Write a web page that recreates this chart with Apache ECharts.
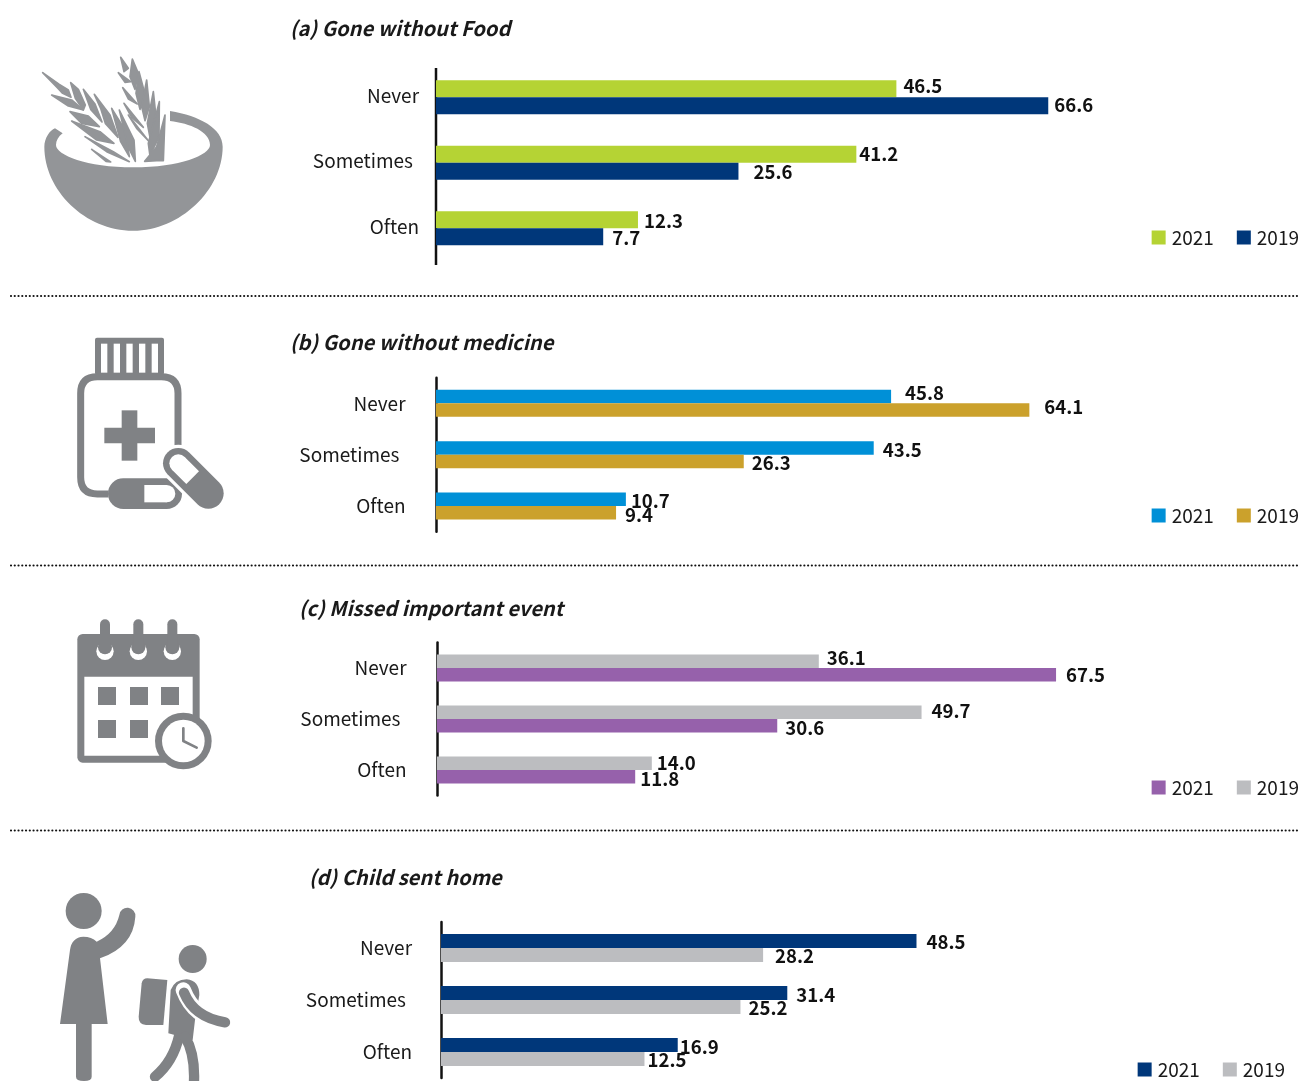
<!DOCTYPE html>
<html>
<head>
<meta charset="utf-8">
<style>html,body{margin:0;padding:0;background:#fff}#c{width:1301px;height:1081px}</style>
<script src="https://cdn.jsdelivr.net/npm/echarts@6/dist/echarts.min.js"></script>
</head>
<body>
<div id="c"></div>
<script>
const categories = ['Never', 'Sometimes', 'Often'];
const years = ['2021', '2019'];

const foodTitle = '(a) Gone without Food';
const food2021 = [46.5, 41.2, 12.3];
const food2019 = [66.6, 25.6, 7.7];

const medicineTitle = '(b) Gone without medicine';
const medicine2021 = [45.8, 43.5, 10.7];
const medicine2019 = [64.1, 26.3, 9.4];

const eventTitle = '(c) Missed important event';
const event2021 = [67.5, 30.6, 11.8];
const event2019 = [36.1, 49.7, 14.0];

const childTitle = '(d) Child sent home';
const child2021 = [48.5, 31.4, 16.9];
const child2019 = [28.2, 25.2, 12.5];

// The source's value axis does not start at zero: bars begin at this value.
const axisStart = -14.43;
const axisEnd = 93.3;

const FONT = '"Noto Sans CJK SC", "Noto Sans", sans-serif';
const INK = '#1a1a1a';

const panels = [
  { key: 'a', title: foodTitle, v21: food2021, v19: food2019, c21: '#b5d334', c19: '#00377a',
    left: 436, top: 64.5, height: 196.5, bar: 17, labelMargin: 17, lift: 1.5, showAxis: false,
    titleX: 290, titleY: 18, legendRight: 2, legendY: 228,
    shift21: [[7, -2.5], [3, -0.5], [6, 1.5]], shift19: [[6, -0.5], [15, 0.5], [9, 1.5]] },
  { key: 'b', title: medicineTitle, v21: medicine2021, v19: medicine2019, c21: '#0090d7', c19: '#cba12c',
    left: 436, top: 377.7, height: 154, bar: 13.5, labelMargin: 30.5, lift: 0, showAxis: true,
    titleX: 290, titleY: 332, legendRight: 2, legendY: 506,
    shift21: [[14, -3.5], [9, 2], [5, 1.5]], shift19: [[15, -3], [8, 1.5], [9, 2]] },
  { key: 'c', title: eventTitle, v21: event2021, v19: event2019, c21: '#9661ab', c19: '#bcbdc0',
    left: 437, top: 642.5, height: 153, bar: 13.5, labelMargin: 30.5, lift: 0, showAxis: true,
    titleX: 299, titleY: 598, legendRight: 2, legendY: 778, olderOnTop: true,
    shift21: [[10, 0], [8, 2.5], [5, 2.5]], shift19: [[8, -3], [10, -1], [5, 0]] },
  { key: 'd', title: childTitle, v21: child2021, v19: child2019, c21: '#00377a', c19: '#bcbdc0',
    left: 441, top: 922, height: 156, bar: 14, labelMargin: 29, lift: 0, showAxis: true,
    titleX: 309, titleY: 867, legendRight: 16, legendY: 1060,
    shift21: [[10, 1], [9, 1.5], [2, 1.5]], shift19: [[12, 1], [8, 1], [3, 1]] }
];

const option = {
  animation: false,
  backgroundColor: '#fff',
  textStyle: { fontFamily: FONT },
  title: [], legend: [], grid: [], xAxis: [], yAxis: [], series: [], graphic: []
};

panels.forEach((p, i) => {
  option.title.push({
    text: p.title, left: p.titleX, top: p.titleY, padding: 0,
    textStyle: { fontFamily: FONT, fontSize: 20.1, fontStyle: 'italic', fontWeight: 700, color: INK }
  });
  option.grid.push({ left: p.left, top: p.top, width: 814, height: p.height, containLabel: false });
  option.xAxis.push({
    gridIndex: i, type: 'value', min: axisStart, max: axisEnd, startValue: axisStart,
    show: false, splitLine: { show: false }
  });
  const catStyle = right => ({ fontFamily: FONT, fontSize: 19, color: INK, padding: [0, right, p.lift * 2, 0] });
  option.yAxis.push({
    gridIndex: i, type: 'category', inverse: true, data: categories,
    axisTick: { show: false },
    axisLine: { show: p.showAxis, onZero: false, lineStyle: { color: '#111', width: 2.5 } },
    axisLabel: {
      margin: p.labelMargin, fontFamily: FONT, fontSize: 19, color: INK,
      formatter: v => (v === 'Sometimes' ? '{s|' : '{n|') + v + '}',
      rich: { s: catStyle(6), n: catStyle(0) }
    }
  });
  const order = [[years[0], p.v21, p.c21, p.shift21], [years[1], p.v19, p.c19, p.shift19]];
  if (p.olderOnTop) order.reverse();
  order.forEach(([year, vals, color, shift]) => {
    option.series.push({
      name: year + ' ' + p.key, type: 'bar', xAxisIndex: i, yAxisIndex: i,
      barWidth: p.bar, barGap: 0, itemStyle: { color: color },
      data: vals.map((v, k) => ({ value: v, label: { offset: shift[k] } })),
      label: {
        show: true, position: 'right', distance: 0,
        fontFamily: FONT, fontSize: 18.6, fontWeight: 700, color: '#111',
        formatter: d => d.value.toFixed(1)
      }
    });
  });
  option.legend.push({
    data: years.map(y => y + ' ' + p.key),
    orient: 'horizontal',
    right: p.legendRight, top: p.legendY, padding: 0, itemWidth: 14, itemHeight: 14, itemGap: 23,
    icon: 'rect', selectedMode: false,
    formatter: n => n.slice(0, 4),
    textStyle: { fontFamily: FONT, fontSize: 19, color: INK, padding: [0, 0, 0, 1] }
  });
});

// panel (a): the drawn axis rule sits a little lower than the category band
option.graphic.push({ type: 'line', shape: { x1: 436, y1: 68, x2: 436, y2: 265 }, style: { stroke: '#111', lineWidth: 2.5 } });

// dotted separators
[296, 565.5, 830.5].forEach(y => option.graphic.push({
  type: 'line', shape: { x1: 11, y1: y, x2: 1299, y2: y },
  style: { stroke: '#111', lineWidth: 2.2, lineCap: 'round', lineDash: [0.01, 3.75] }
}));

// icons: drawn in 3x coordinates inside scaled groups
const path = (d, fill) => ({ type: 'path', shape: { pathData: d }, style: { fill: fill } });
const leaf = (d, fill) => ({ type: 'path', shape: { pathData: d }, style: { fill: fill, stroke: fill, lineWidth: 5, lineJoin: 'round' } });
const rect = (x, y, w, h, fill, r) => ({ type: 'rect', shape: { x, y, width: w, height: h, r: r || 0 }, style: { fill: fill } });
const circ = (cx, cy, r, fill) => ({ type: 'circle', shape: { cx, cy, r }, style: { fill: fill } });
const stroke = (d, color, w, cap) => ({ type: 'path', shape: { pathData: d }, style: { fill: 'none', stroke: color, lineWidth: w, lineCap: cap || 'round', lineJoin: 'round' } });
const G1 = '#939598', G2 = '#808285', W = '#fff';
const icon = (x, y, children) => ({ type: 'group', x, y, scaleX: 1 / 3, scaleY: 1 / 3, children });
const iconGroups = [];

const wheat = [
  'M128 98 L178 133 L205 150 L213 172 L188 160 L172 143 Z',
  'M155 165 L215 180 L250 210 L205 198 Z',
  'M212 128 L235 148 L256 195 L250 210 L226 175 Z',
  'M250 148 L285 192 L306 246 L272 208 Z',
  'M210 215 L265 228 L298 260 L245 250 Z',
  'M283 163 L330 225 L354 292 L316 250 L302 205 Z',
  'M215 243 L300 275 L342 310 L290 300 Z',
  'M335 205 L375 270 L388 350 L362 305 Z',
  'M255 290 L340 335 L388 365 L320 335 Z',
  'M275 328 L332 366 L318 364 Z',
  'M358 210 L402 300 L406 364 L384 320 Z',
  'M362 52 L385 85 L372 95 Z',
  'M355 98 L392 125 L375 127 Z',
  'M397 57 L415 100 L405 148 L390 110 Z',
  'M368 143 L412 192 L385 177 Z',
  'M417 95 L437 170 L420 208 L408 160 Z',
  'M372 190 L430 262 L395 232 Z',
  'M440 120 L448 200 L435 242 L425 200 Z',
  'M385 225 L445 302 L410 265 Z',
  'M460 155 L470 250 L450 292 L442 250 Z',
  'M478 185 L477 290 L450 348 L445 310 Z',
  'M495 225 L490 362 L470 362 L434 364 L470 320 Z'
];
iconGroups.push(icon(0, 40, [
  path('M133 320 C133 295 150 270 165 265 L188 280 C175 290 168 302 168 315 C168 345 260 382 400 382 C540 382 630 345 630 315 C630 275 570 250 510 243 L510 213 C600 228 668 265 668 320 C668 450 540 572 400 572 C255 572 133 450 133 320 Z', G1)
].concat(wheat.map(d => leaf(d, G1)))));

const capSlots = [153, 191, 229, 267, 305];
const capSlotEls = capSlots.map(x => rect(x, 56, 19, 87, W));
iconGroups.push(icon(50, 325, [
  rect(135, 38, 207, 112, G2, 6)
].concat(capSlotEls, [
  stroke('M175 507 L142 507 Q92 507 92 457 L92 205 Q92 155 142 155 L334 155 Q384 155 384 205 L384 385', G2, 21, 'butt'),
  rect(215, 256, 47, 151, G2),
  rect(163, 308, 152, 47, G2),
  stroke('M220 506 L350 506', G2, 92),
  rect(283, 480, 67, 52, W),
  circ(350, 506, 26, W),
  stroke('M385 415 L475 505', W, 112),
  stroke('M385 415 L475 505', G2, 92),
  stroke('M385 415 L428 458', W, 54, 'butt'),
  circ(385, 415, 27, W)
])));

const ringXs = [165, 265, 367];
const calSquares = [[144, 231], [240, 231], [333, 231], [144, 330], [240, 330]];
iconGroups.push(icon(50, 610, [
  rect(82, 72, 367, 386, G2, 16),
  rect(103, 200, 325, 237, W)
].concat(
  ringXs.map(x => circ(x, 124, 26, W)),
  ringXs.map(x => circ(x, 112, 21, G2)),
  ringXs.map(x => stroke('M' + x + ' 43 L' + x + ' 115', G2, 30)),
  calSquares.map(s => rect(s[0], s[1], 54, 54, G2)),
  [
    circ(400, 393, 85, G2),
    circ(400, 393, 64, W),
    stroke('M400 355 L400 393 L440 413', G2, 8)
  ]
)));

iconGroups.push(icon(40, 880, [
  circ(131, 93, 54, G2),
  path('M90 210 Q95 172 130 170 Q155 170 170 185 Q225 160 238 105 A24 24 0 0 1 286 110 Q280 200 180 235 L203 432 L155 432 L155 590 Q155 603 132 603 Q108 603 108 590 L108 432 L60 432 Z', G2),
  circ(458, 237, 42, G2),
  path('M322 295 L382 300 L370 435 L318 435 Q295 432 296 410 L305 310 Q308 295 322 295 Z', G2),
  path('M392 330 Q405 298 440 298 Q478 302 478 345 L465 420 L458 480 L385 460 Z', G2),
  stroke('M418 465 Q400 545 345 590', G2, 31),
  stroke('M435 470 Q465 520 462 603', G2, 31),
  stroke('M430 330 Q462 415 555 427', W, 46),
  stroke('M432 338 Q462 412 555 427', G2, 31)
]));

option.series.push({
  name: 'icons', type: 'custom', coordinateSystem: 'none', silent: true,
  data: [0],
  renderItem: () => ({ type: 'group', children: iconGroups })
});

const chart = echarts.init(document.getElementById('c'), null, { renderer: 'canvas', width: 1301, height: 1081 });
chart.setOption(option);
</script>
</body>
</html>
